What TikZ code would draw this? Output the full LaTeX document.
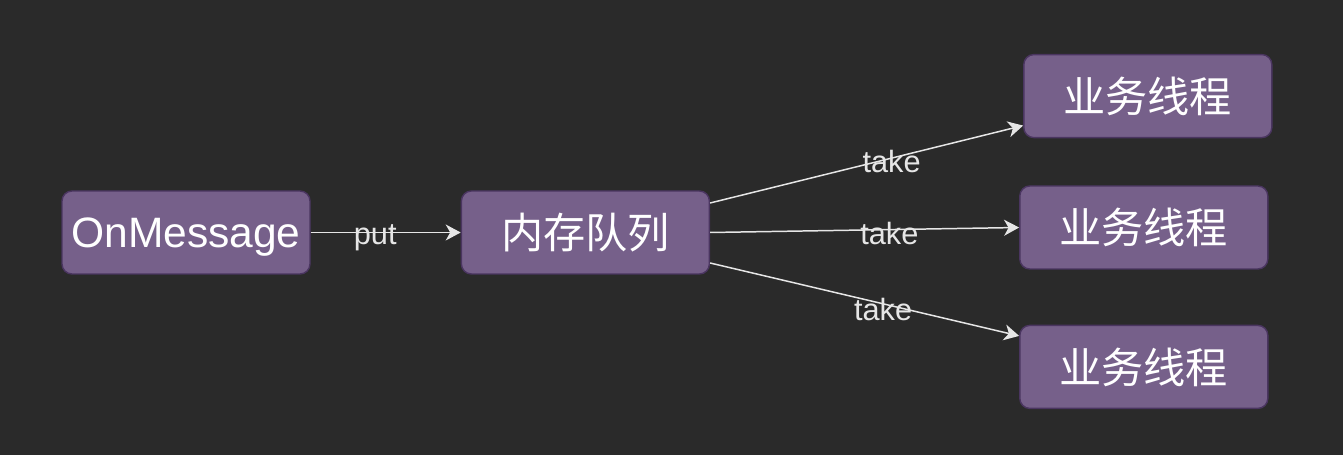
\documentclass[tikz,border=0pt]{standalone}
\usepackage{fontspec}
\setmainfont{Liberation Sans}
\newfontfamily\cjk{Noto Sans CJK SC}
\usetikzlibrary{positioning, arrows.meta}

\definecolor{bg}{HTML}{2A2A2A}
\definecolor{boxfill}{HTML}{76608A}
\definecolor{boxline}{HTML}{4A3560}
\definecolor{wire}{HTML}{E6E6E6}

\begin{document}
\begin{tikzpicture}[
	box/.style={draw=boxline, line width=0.8pt, fill=boxfill, rounded corners=0.2cm,
		minimum width=4.96cm, minimum height=1.66cm, inner sep=0pt, text=white,
		font=\fontsize{24.2}{28}\selectfont},
	cjkbox/.style={box, font=\cjk\fontsize{24}{28}\selectfont},
	lbl/.style={text=wire, inner sep=0pt, font=\fontsize{17.5}{20}\selectfont},
	link/.style={draw=wire, line width=0.85pt, -{Stealth[length=0.3cm, width=0.32cm, inset=0.09cm]}}
	]
	% background and frame
	\fill[bg] (0,0) rectangle (26.86,-9.10);
	\useasboundingbox (0,0) rectangle (26.86,-9.10);

	\node[box, text depth=0pt] (msg) at (3.72,-4.65) {OnMessage};
	\node[cjkbox, right=3cm of msg] (queue) {内存队列};
	\node[cjkbox, right=6.18cm of queue, yshift=0.1cm] (work2) {业务线程};
	\node[cjkbox, above=0.94cm of work2, xshift=0.08cm] (work1) {业务线程};
	\node[cjkbox, below=1.1cm of work2] (work3) {业务线程};

	\draw[link] (msg) -- node[lbl, pos=0.43, yshift=-0.1cm] {put} (queue);
	\draw[link] ([yshift=0.59cm]queue.east) -- node[lbl, pos=0.58, yshift=-0.06cm] {take} ([yshift=-0.59cm]work1.west);
	\draw[link] (queue.east) -- node[lbl, pos=0.58, yshift=-0.08cm] {take} (work2.west);
	\draw[link] ([yshift=-0.61cm]queue.east) -- node[lbl, pos=0.56, yshift=-0.12cm] {take} ([yshift=0.62cm]work3.west);
\end{tikzpicture}
\end{document}
